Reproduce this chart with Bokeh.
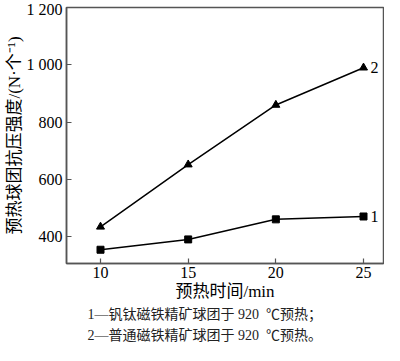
from bokeh.plotting import figure
from bokeh.models import Range1d, FixedTicker, Label, Title
from bokeh.embed import file_html
from bokeh.resources import INLINE

# ---- data ----
time_min = [10, 15, 20, 25]
strength_1 = [355, 391, 461, 471]   # 钒钛磁铁精矿球团
strength_2 = [435, 652, 860, 990]   # 普通磁铁精矿球团
x_ticks = [10, 15, 20, 25]
y_ticks = [400, 600, 800, 1000, 1200]
y_tick_labels = ["400", "600", "800", "1 000", "1 200"]
series_names = ["1", "2"]
x_title = "预热时间/min"
y_title = "预热球团抗压强度/(N·个⁻¹)"
captions = ["1—钒钛磁铁精矿球团于 920\u00a0\u00a0℃预热；", "2—普通磁铁精矿球团于 920\u00a0\u00a0℃预热。"]

# ---- layout ----
W, H = 384, 345
LEFT, RIGHT_B, TOP = 66, 1, 7
X0, X1 = 8.06, 26.14
Y0, Y1 = 307, 1200

SERIF = "'Liberation Serif', 'Noto Sans CJK SC'"
AX = "#555555"

p = figure(width=W, height=H, output_backend="svg", toolbar_location=None,
           x_range=Range1d(X0, X1), y_range=Range1d(Y0, Y1),
           min_border_left=LEFT, min_border_right=RIGHT_B,
           min_border_top=TOP, min_border_bottom=0)
p.grid.visible = False
p.outline_line_color = AX
p.outline_line_width = 1.5
p.background_fill_color = "white"
p.border_fill_color = "white"

for ax in (p.xaxis[0], p.yaxis[0]):
    ax.axis_line_color = AX
    ax.axis_line_width = 1.5
    ax.major_tick_line_color = AX
    ax.major_tick_line_width = 1.2
    ax.major_tick_in = 5
    ax.major_tick_out = 0
    ax.minor_tick_line_color = None
    ax.major_label_text_font = SERIF
    ax.major_label_text_font_size = "16px"
    ax.major_label_text_color = "black"
    ax.axis_label_text_font = SERIF
    ax.axis_label_text_font_size = "17px"
    ax.axis_label_text_font_style = "normal"
    ax.axis_label_text_color = "black"

xa = p.xaxis[0]
xa.ticker = FixedTicker(ticks=x_ticks)
xa.major_label_standoff = 3
xa.axis_label = x_title
xa.axis_label_standoff = 1

ya = p.yaxis[0]
ya.ticker = FixedTicker(ticks=y_ticks)
ya.major_label_overrides = {t: l for t, l in zip(y_ticks, y_tick_labels)}
ya.major_label_standoff = 4
ya.axis_label = y_title
ya.axis_label_standoff = 0

# series
p.line(time_min, strength_1, line_color="black", line_width=1.5)
p.scatter(time_min, strength_1, marker="square", size=7, color="black")
p.line(time_min, strength_2, line_color="black", line_width=1.5)
p.scatter(time_min, strength_2, marker="triangle", size=8, color="black")

for name, ys in zip(series_names, [strength_1, strength_2]):
    p.add_layout(Label(x=time_min[-1], y=ys[-1], text=name, x_offset=7,
                       text_font=SERIF, text_font_size="16px",
                       text_baseline="middle", text_align="left", text_color="black"))

# captions below the axis
for i, c in enumerate(captions):
    p.add_layout(Title(text=c, align="left", offset=21, standoff=2 + 4 * i,
                       text_font=SERIF, text_font_size="14px",
                       text_font_style="normal", text_color="#222222"), "below")

open("out.html", "w").write(file_html(p, INLINE))
